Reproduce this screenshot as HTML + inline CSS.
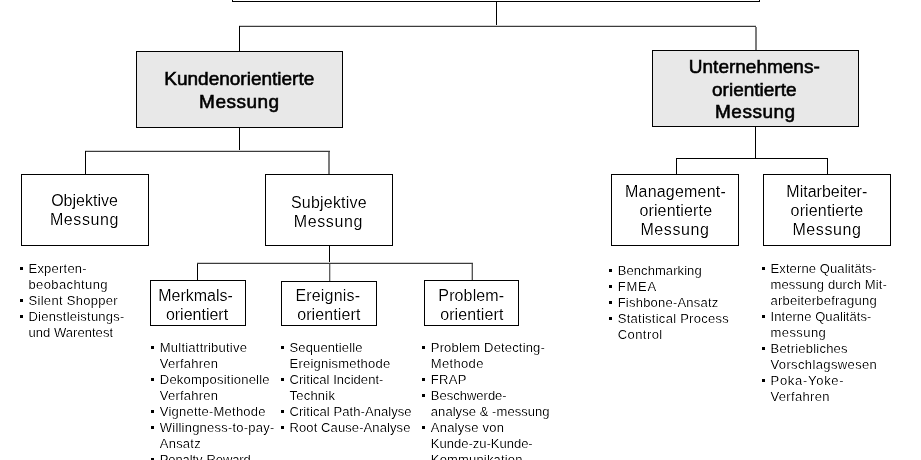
<!DOCTYPE html>
<html><head><meta charset="utf-8"><title>Messung</title>
<style>
html,body{margin:0;padding:0;background:#fff;}
body{width:921px;height:460px;position:relative;overflow:hidden;filter:grayscale(1);font-family:"Liberation Sans",sans-serif;color:#000;}
.l,.b,.t,.bt,.li{position:absolute;}
.b{box-sizing:border-box;border:1px solid #000;}
.t,.bt{text-align:center;white-space:nowrap;}
.bt{-webkit-text-stroke:0.6px #000;}
.li{white-space:nowrap;}
.t,.li{-webkit-text-stroke:0.2px #fff;filter:contrast(1.8);}
</style></head><body>
<div class="b" style="left:232px;top:-60px;width:528px;height:62px;background:#fff"></div>
<div class="l" style="left:496px;top:1px;width:1px;height:26px;background:#000"></div>
<div class="l" style="left:239px;top:25px;width:517px;height:1px;background:#d0d0d0"></div>
<div class="l" style="left:239px;top:26px;width:517px;height:1px;background:#3c3c3c"></div>
<div class="l" style="left:239px;top:26px;width:1px;height:26px;background:#000"></div>
<div class="l" style="left:755px;top:27px;width:1px;height:24px;background:#7c7c7c"></div>
<div class="l" style="left:756px;top:27px;width:1px;height:24px;background:#7c7c7c"></div>
<div class="b" style="left:136px;top:51px;width:207px;height:77px;background:#e8e8e8"></div>
<div class="b" style="left:652px;top:50px;width:207px;height:77px;background:#e8e8e8"></div>
<div class="l" style="left:239px;top:127px;width:1px;height:25px;background:#000"></div>
<div class="l" style="left:85px;top:150px;width:245px;height:1px;background:#d0d0d0"></div>
<div class="l" style="left:85px;top:151px;width:245px;height:1px;background:#3c3c3c"></div>
<div class="l" style="left:85px;top:151px;width:1px;height:24px;background:#000"></div>
<div class="l" style="left:328px;top:152px;width:1px;height:23px;background:#7c7c7c"></div>
<div class="l" style="left:329px;top:152px;width:1px;height:23px;background:#7c7c7c"></div>
<div class="b" style="left:21px;top:174px;width:128px;height:72px;background:#fff"></div>
<div class="b" style="left:265px;top:174px;width:128px;height:72px;background:#fff"></div>
<div class="l" style="left:755px;top:126px;width:1px;height:33px;background:#000"></div>
<div class="l" style="left:676px;top:158px;width:152px;height:1px;background:#000"></div>
<div class="l" style="left:676px;top:158px;width:1px;height:17px;background:#000"></div>
<div class="l" style="left:827px;top:158px;width:1px;height:17px;background:#000"></div>
<div class="b" style="left:611px;top:174px;width:128px;height:72px;background:#fff"></div>
<div class="b" style="left:763px;top:174px;width:128px;height:72px;background:#fff"></div>
<div class="l" style="left:329px;top:245px;width:1px;height:18px;background:#000"></div>
<div class="l" style="left:197px;top:262px;width:276px;height:1px;background:#d0d0d0"></div>
<div class="l" style="left:197px;top:263px;width:276px;height:1px;background:#3c3c3c"></div>
<div class="l" style="left:197px;top:264px;width:1px;height:17px;background:#000"></div>
<div class="l" style="left:471px;top:264px;width:1px;height:17px;background:#c0c0c0"></div>
<div class="l" style="left:472px;top:264px;width:1px;height:17px;background:#555555"></div>
<div class="l" style="left:329px;top:264px;width:1px;height:18px;background:#606060"></div>
<div class="l" style="left:330px;top:264px;width:1px;height:18px;background:#c8c8c8"></div>
<div class="b" style="left:150px;top:280px;width:96px;height:46px;background:#fff"></div>
<div class="b" style="left:281px;top:281px;width:96px;height:45px;background:#fff"></div>
<div class="b" style="left:424px;top:280px;width:95px;height:46px;background:#fff"></div>
<div class="bt" style="left:89.3px;top:67.00px;width:300px;font-size:19px;line-height:24px;">Kundenorientierte</div>
<div class="bt" style="left:89.4px;top:90.00px;width:300px;font-size:19px;line-height:24px;letter-spacing:0.5px;">Messung</div>
<div class="bt" style="left:604.3px;top:55.00px;width:300px;font-size:19px;line-height:24px;">Unternehmens-</div>
<div class="bt" style="left:604.3px;top:78.00px;width:300px;font-size:19px;line-height:24px;">orientierte</div>
<div class="bt" style="left:605.3px;top:100.00px;width:300px;font-size:19px;line-height:24px;letter-spacing:0.5px;">Messung</div>
<div class="t" style="left:-65.5px;top:191.00px;width:300px;font-size:16px;line-height:20px;">Objektive</div>
<div class="t" style="left:-65.5px;top:210.00px;width:300px;font-size:16px;line-height:20px;letter-spacing:0.6px;">Messung</div>
<div class="t" style="left:178.9px;top:193.00px;width:300px;font-size:16px;line-height:20px;letter-spacing:0.2px;">Subjektive</div>
<div class="t" style="left:178.4px;top:212.00px;width:300px;font-size:16px;line-height:20px;letter-spacing:0.6px;">Messung</div>
<div class="t" style="left:525.5px;top:182.00px;width:300px;font-size:16px;line-height:20px;letter-spacing:0.2px;">Management-</div>
<div class="t" style="left:525.8px;top:201.00px;width:300px;font-size:16px;line-height:20px;letter-spacing:0.15px;">orientierte</div>
<div class="t" style="left:525.0px;top:220.00px;width:300px;font-size:16px;line-height:20px;letter-spacing:0.6px;">Messung</div>
<div class="t" style="left:676.8px;top:182.00px;width:300px;font-size:16px;line-height:20px;">Mitarbeiter-</div>
<div class="t" style="left:677.0px;top:201.00px;width:300px;font-size:16px;line-height:20px;letter-spacing:0.15px;">orientierte</div>
<div class="t" style="left:677.0px;top:220.00px;width:300px;font-size:16px;line-height:20px;letter-spacing:0.6px;">Messung</div>
<div class="t" style="left:45.5px;top:286.00px;width:300px;font-size:16px;line-height:20px;">Merkmals-</div>
<div class="t" style="left:47.0px;top:305.00px;width:300px;font-size:16px;line-height:20px;">orientiert</div>
<div class="t" style="left:177.8px;top:286.00px;width:300px;font-size:16px;line-height:20px;letter-spacing:0.18px;">Ereignis-</div>
<div class="t" style="left:178.8px;top:305.00px;width:300px;font-size:16px;line-height:20px;letter-spacing:0.1px;">orientiert</div>
<div class="t" style="left:321.3px;top:286.00px;width:300px;font-size:16px;line-height:20px;letter-spacing:0.12px;">Problem-</div>
<div class="t" style="left:321.8px;top:305.00px;width:300px;font-size:16px;line-height:20px;letter-spacing:0.1px;">orientiert</div>
<div class="l" style="left:20px;top:267px;width:3px;height:3px;background:#000"></div>
<div class="li" style="left:28.5px;top:261.00px;font-size:13px;line-height:16px;letter-spacing:0.22px;">Experten-</div>
<div class="li" style="left:28.5px;top:277.00px;font-size:13px;line-height:16px;letter-spacing:0.38px;">beobachtung</div>
<div class="l" style="left:20px;top:299px;width:3px;height:3px;background:#000"></div>
<div class="li" style="left:28.5px;top:293.00px;font-size:13px;line-height:16px;letter-spacing:0.3px;">Silent Shopper</div>
<div class="l" style="left:20px;top:315px;width:3px;height:3px;background:#000"></div>
<div class="li" style="left:28.5px;top:309.00px;font-size:13px;line-height:16px;letter-spacing:0.22px;">Dienstleistungs-</div>
<div class="li" style="left:28.5px;top:325.00px;font-size:13px;line-height:16px;letter-spacing:0.04px;">und Warentest</div>
<div class="l" style="left:151px;top:346px;width:3px;height:3px;background:#000"></div>
<div class="li" style="left:159.8px;top:340.00px;font-size:13px;line-height:16px;letter-spacing:0.22px;">Multiattributive</div>
<div class="li" style="left:159.8px;top:356.00px;font-size:13px;line-height:16px;letter-spacing:0.22px;">Verfahren</div>
<div class="l" style="left:151px;top:378px;width:3px;height:3px;background:#000"></div>
<div class="li" style="left:159.8px;top:372.00px;font-size:13px;line-height:16px;letter-spacing:0.22px;">Dekompositionelle</div>
<div class="li" style="left:159.8px;top:388.00px;font-size:13px;line-height:16px;letter-spacing:0.22px;">Verfahren</div>
<div class="l" style="left:151px;top:410px;width:3px;height:3px;background:#000"></div>
<div class="li" style="left:159.8px;top:404.00px;font-size:13px;line-height:16px;letter-spacing:0.22px;">Vignette-Methode</div>
<div class="l" style="left:151px;top:426px;width:3px;height:3px;background:#000"></div>
<div class="li" style="left:159.8px;top:420.00px;font-size:13px;line-height:16px;letter-spacing:0.22px;">Willingness-to-pay-</div>
<div class="li" style="left:159.8px;top:436.00px;font-size:13px;line-height:16px;letter-spacing:0.22px;">Ansatz</div>
<div class="l" style="left:151px;top:458px;width:3px;height:3px;background:#000"></div>
<div class="li" style="left:159.8px;top:452.00px;font-size:13px;line-height:16px;letter-spacing:-0.12px;">Penalty-Reward</div>
<div class="li" style="left:159.8px;top:468.00px;font-size:13px;line-height:16px;letter-spacing:0.22px;">-Verfahren</div>
<div class="l" style="left:281px;top:346px;width:3px;height:3px;background:#000"></div>
<div class="li" style="left:289.5px;top:340.00px;font-size:13px;line-height:16px;letter-spacing:0.13px;">Sequentielle</div>
<div class="li" style="left:289.5px;top:356.00px;font-size:13px;line-height:16px;letter-spacing:0.22px;">Ereignismethode</div>
<div class="l" style="left:281px;top:378px;width:3px;height:3px;background:#000"></div>
<div class="li" style="left:289.5px;top:372.00px;font-size:13px;line-height:16px;letter-spacing:0.04px;">Critical Incident-</div>
<div class="li" style="left:289.5px;top:388.00px;font-size:13px;line-height:16px;letter-spacing:0.22px;">Technik</div>
<div class="l" style="left:281px;top:410px;width:3px;height:3px;background:#000"></div>
<div class="li" style="left:289.5px;top:404.00px;font-size:13px;line-height:16px;letter-spacing:0.07px;">Critical Path-Analyse</div>
<div class="l" style="left:281px;top:426px;width:3px;height:3px;background:#000"></div>
<div class="li" style="left:289.5px;top:420.00px;font-size:13px;line-height:16px;letter-spacing:0.1px;">Root Cause-Analyse</div>
<div class="l" style="left:422px;top:346px;width:3px;height:3px;background:#000"></div>
<div class="li" style="left:430.8px;top:340.00px;font-size:13px;line-height:16px;letter-spacing:0.16px;">Problem Detecting-</div>
<div class="li" style="left:430.8px;top:356.00px;font-size:13px;line-height:16px;letter-spacing:0.33px;">Methode</div>
<div class="l" style="left:422px;top:378px;width:3px;height:3px;background:#000"></div>
<div class="li" style="left:430.8px;top:372.00px;font-size:13px;line-height:16px;letter-spacing:0.33px;">FRAP</div>
<div class="l" style="left:422px;top:394px;width:3px;height:3px;background:#000"></div>
<div class="li" style="left:430.8px;top:388.00px;font-size:13px;line-height:16px;">Beschwerde-</div>
<div class="li" style="left:430.8px;top:404.00px;font-size:13px;line-height:16px;letter-spacing:0.06px;">analyse &amp; -messung</div>
<div class="l" style="left:422px;top:426px;width:3px;height:3px;background:#000"></div>
<div class="li" style="left:430.8px;top:420.00px;font-size:13px;line-height:16px;letter-spacing:0.23px;">Analyse von</div>
<div class="li" style="left:430.8px;top:436.00px;font-size:13px;line-height:16px;">Kunde-zu-Kunde-</div>
<div class="li" style="left:430.8px;top:452.00px;font-size:13px;line-height:16px;letter-spacing:0.17px;">Kommunikation</div>
<div class="l" style="left:609px;top:269px;width:3px;height:3px;background:#000"></div>
<div class="li" style="left:617.7px;top:263.00px;font-size:13px;line-height:16px;letter-spacing:0.08px;">Benchmarking</div>
<div class="l" style="left:609px;top:285px;width:3px;height:3px;background:#000"></div>
<div class="li" style="left:617.7px;top:279.00px;font-size:13px;line-height:16px;letter-spacing:0.8px;">FMEA</div>
<div class="l" style="left:609px;top:301px;width:3px;height:3px;background:#000"></div>
<div class="li" style="left:617.7px;top:295.00px;font-size:13px;line-height:16px;letter-spacing:0.22px;">Fishbone-Ansatz</div>
<div class="l" style="left:609px;top:317px;width:3px;height:3px;background:#000"></div>
<div class="li" style="left:617.7px;top:311.00px;font-size:13px;line-height:16px;letter-spacing:0.27px;">Statistical Process</div>
<div class="li" style="left:617.7px;top:327.00px;font-size:13px;line-height:16px;letter-spacing:0.44px;">Control</div>
<div class="l" style="left:762px;top:267px;width:3px;height:3px;background:#000"></div>
<div class="li" style="left:770.5px;top:261.00px;font-size:13px;line-height:16px;letter-spacing:0.11px;">Externe Qualitäts-</div>
<div class="li" style="left:770.5px;top:277.00px;font-size:13px;line-height:16px;letter-spacing:0.13px;">messung durch Mit-</div>
<div class="li" style="left:770.5px;top:293.00px;font-size:13px;line-height:16px;letter-spacing:0.22px;">arbeiterbefragung</div>
<div class="l" style="left:762px;top:315px;width:3px;height:3px;background:#000"></div>
<div class="li" style="left:770.5px;top:309.00px;font-size:13px;line-height:16px;letter-spacing:0.07px;">Interne Qualitäts-</div>
<div class="li" style="left:770.5px;top:325.00px;font-size:13px;line-height:16px;letter-spacing:0.42px;">messung</div>
<div class="l" style="left:762px;top:347px;width:3px;height:3px;background:#000"></div>
<div class="li" style="left:770.5px;top:341.00px;font-size:13px;line-height:16px;letter-spacing:0.22px;">Betriebliches</div>
<div class="li" style="left:770.5px;top:357.00px;font-size:13px;line-height:16px;letter-spacing:0.37px;">Vorschlagswesen</div>
<div class="l" style="left:762px;top:379px;width:3px;height:3px;background:#000"></div>
<div class="li" style="left:770.5px;top:373.00px;font-size:13px;line-height:16px;letter-spacing:0.71px;">Poka-Yoke-</div>
<div class="li" style="left:770.5px;top:389.00px;font-size:13px;line-height:16px;letter-spacing:0.34px;">Verfahren</div>
</body></html>
